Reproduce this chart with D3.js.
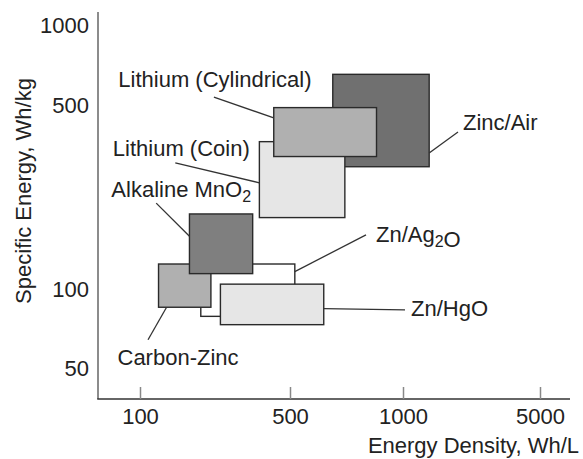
<!DOCTYPE html>
<html>
<head>
<meta charset="utf-8">
<script src="https://cdn.jsdelivr.net/npm/d3@7"></script>
<style>
  body { margin: 0; background: #fff; }
  text { font-family: "Liberation Sans", Arial, Helvetica, sans-serif; fill: #222; }
</style>
</head>
<body>
<svg id="chart" width="583" height="459"></svg>
<script>
// Primary battery systems, drawn back to front
const batteries   = ["Zinc/Air", "Lithium (Coin)", "Lithium (Cylindrical)", "Zn/Ag2O", "Zn/HgO", "Carbon-Zinc", "Alkaline MnO2"];
// Energy density range, Wh/L
const densityMin  = [650, 360, 420, 192, 237, 122, 170];
const densityMax  = [1360, 700, 850, 515, 615, 214, 335];
// Specific energy range, Wh/kg
const energyMin   = [290, 186, 317, 78.5, 73, 85, 114];
const energyMax   = [650, 361, 486, 124, 104, 124, 192];
// Leader lines: from a point on the box to the label (data units)
const leaderFromX = [1360, 360, 420, 515, 615, 133, 170];
const leaderFromY = [327, 252, 444, 116, 84, 85, 158];
const leaderToX   = [1908, 146, 221, 797, 1024, 109, 119];
const leaderToY   = [393, 300, 533, 160, 83, 64, 211];
// Axis ticks
const densityTicks = [100, 500, 1000, 5000];
const energyTicks  = [50, 100, 500, 1000];

// Box fills and label placement
const fill = {
  "Zinc/Air": "#707070",
  "Lithium (Coin)": "#e6e6e6",
  "Lithium (Cylindrical)": "#b0b0b0",
  "Zn/Ag2O": "#ffffff",
  "Zn/HgO": "#e6e6e6",
  "Carbon-Zinc": "#b0b0b0",
  "Alkaline MnO2": "#7f7f7f"
};
const labelPos = {
  "Zinc/Air": { anchor: "start", dx: 5, dy: -2 },
  "Lithium (Coin)": { anchor: "middle", dx: 6, dy: -7 },
  "Lithium (Cylindrical)": { anchor: "middle", dx: 1, dy: -10 },
  "Zn/Ag2O": { anchor: "start", dx: 10, dy: 7 },
  "Zn/HgO": { anchor: "start", dx: 6, dy: 6 },
  "Carbon-Zinc": { anchor: "middle", dx: 30, dy: 25 },
  "Alkaline MnO2": { anchor: "middle", dx: 25, dy: -6 }
};

const rows = batteries.map((name, i) => ({
  name,
  x0: densityMin[i], x1: densityMax[i],
  y0: energyMin[i], y1: energyMax[i],
  fx: leaderFromX[i], fy: leaderFromY[i],
  tx: leaderToX[i], ty: leaderToY[i]
}));

const svg = d3.select("#chart");
const axisLeftX = 98, axisRightX = 570, axisTopY = 12, axisBottomY = 399;

// Log scales; the density axis is stretched piecewise between its labelled decades
const x = d3.scaleLog().domain(densityTicks).range([140, 290, 403, 540]);
const y = d3.scaleLog().domain([50, 1000]).range([368, 25]);

// Boxes
svg.append("g").selectAll("rect").data(rows).join("rect")
  .attr("x", d => x(d.x0))
  .attr("y", d => y(d.y1))
  .attr("width", d => x(d.x1) - x(d.x0))
  .attr("height", d => y(d.y0) - y(d.y1))
  .attr("fill", d => fill[d.name])
  .attr("stroke", "#2a2a2a")
  .attr("stroke-width", 1.4);

// Leader lines
svg.append("g").selectAll("line").data(rows).join("line")
  .attr("x1", d => x(d.fx)).attr("y1", d => y(d.fy))
  .attr("x2", d => x(d.tx)).attr("y2", d => y(d.ty))
  .attr("stroke", "#333").attr("stroke-width", 1.3);

// Labels, with digits set as chemical subscripts
const labels = svg.append("g").selectAll("text").data(rows).join("text")
  .attr("x", d => x(d.tx) + labelPos[d.name].dx)
  .attr("y", d => y(d.ty) + labelPos[d.name].dy)
  .attr("text-anchor", d => labelPos[d.name].anchor)
  .attr("font-size", 22);
labels.each(function(d) {
  const t = d3.select(this);
  d.name.split(/(\d)/).filter(s => s.length).forEach(part => {
    if (/^\d$/.test(part)) {
      t.append("tspan").attr("font-size", 16).attr("dy", 5).text(part);
      t.append("tspan").attr("dy", -5).text("");
    } else {
      t.append("tspan").text(part);
    }
  });
});

// Axis lines
svg.append("line")
  .attr("x1", axisLeftX).attr("x2", axisLeftX)
  .attr("y1", axisTopY).attr("y2", axisBottomY)
  .attr("stroke", "#666").attr("stroke-width", 1.5);
svg.append("line")
  .attr("x1", axisLeftX - 0.75).attr("x2", axisRightX)
  .attr("y1", axisBottomY).attr("y2", axisBottomY)
  .attr("stroke", "#333").attr("stroke-width", 1.5);

// X axis ticks point inward
const gx = svg.append("g")
  .attr("transform", `translate(0,${axisBottomY})`)
  .call(d3.axisBottom(x).tickValues(densityTicks).tickFormat(d3.format("d"))
    .tickSizeInner(-12).tickSizeOuter(0).tickPadding(9));
gx.select(".domain").remove();
gx.selectAll(".tick line").attr("stroke", "#888").attr("stroke-width", 1.5);
gx.selectAll(".tick text")
  .attr("font-size", 22).attr("font-family", null).attr("fill", "#222")
  .attr("y", 25).attr("dy", 0);

// Y axis labels only
const gy = svg.append("g")
  .attr("transform", `translate(${axisLeftX},0)`)
  .call(d3.axisLeft(y).tickValues(energyTicks).tickFormat(d3.format("d"))
    .tickSize(0).tickPadding(9));
gy.select(".domain").remove();
gy.selectAll(".tick text")
  .attr("font-size", 22).attr("font-family", null).attr("fill", "#222")
  .attr("dy", "0.36em");

// Axis titles
svg.append("text")
  .attr("x", 579).attr("y", 453)
  .attr("text-anchor", "end").attr("font-size", 22)
  .text("Energy Density, Wh/L");
svg.append("text")
  .attr("transform", "translate(31,191) rotate(-90)")
  .attr("text-anchor", "middle").attr("font-size", 22)
  .text("Specific Energy, Wh/kg");
</script>
</body>
</html>
